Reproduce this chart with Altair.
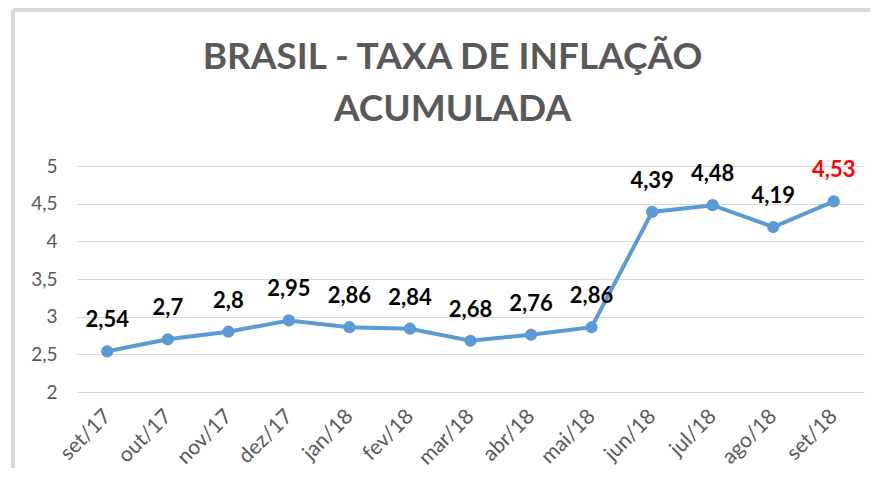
import altair as alt
import pandas as pd

meses = ["set/17", "out/17", "nov/17", "dez/17", "jan/18", "fev/18", "mar/18",
         "abr/18", "mai/18", "jun/18", "jul/18", "ago/18", "set/18"]
valores = [2.54, 2.7, 2.8, 2.95, 2.86, 2.84, 2.68, 2.76, 2.86, 4.39, 4.48, 4.19, 4.53]
y_ticks = [2, 2.5, 3, 3.5, 4, 4.5, 5]
titulo = ["BRASIL - TAXA DE INFLAÇÃO", "ACUMULADA"]

df = pd.DataFrame({"mes": meses, "valor": valores})

FONT = "Lato"
GRAY = "#595959"
BLUE = "#5B9BD5"

x = alt.X("mes:N", sort=meses, title=None,
          scale=alt.Scale(paddingInner=0, paddingOuter=0),
          axis=alt.Axis(labelAngle=-45, labelAlign="right", labelBaseline="middle",
                        labelPadding=21, labelFontSize=21, labelColor=GRAY,
                        labelFont=FONT, ticks=False, domain=True,
                        domainColor="#D9D9D9", domainWidth=1, grid=False))
y = alt.Y("valor:Q", title=None,
          scale=alt.Scale(domain=[2, 5], nice=False, zero=False),
          axis=alt.Axis(values=y_ticks, labelExpr="replace(toString(datum.value), '.', ',')",
                        labelFontSize=19, labelColor=GRAY, labelFont=FONT,
                        labelPadding=20, ticks=False, domain=False,
                        grid=True, gridColor="#D9D9D9", gridWidth=1))

base = alt.Chart(df).encode(x=x, y=y)

line = base.mark_line(color=BLUE, strokeWidth=4)
points = base.mark_point(filled=True, color=BLUE, size=150, opacity=1)
labels = base.transform_calculate(
    rotulo="replace(toString(datum.valor), '.', ',')"
).mark_text(dy=-24, baseline="alphabetic", fontSize=22, fontWeight="bold", font=FONT).encode(
    text="rotulo:N",
    color=alt.condition(alt.datum.mes == "set/18", alt.value("#FF0000"), alt.value("#000000")),
)

border_left = alt.Chart(df).mark_rule(color="#D9D9D9", strokeWidth=3).encode(
    x=alt.value(-64), y=alt.value(-156), y2=alt.value(400))
border_top = alt.Chart(df).mark_rule(color="#D9D9D9", strokeWidth=3).encode(
    x=alt.value(-64), x2=alt.value(900), y=alt.value(-156))

chart = alt.layer(border_left, border_top, line, points, labels).properties(
    width=787, height=226,
    padding={"left": 69, "top": 158, "right": 6, "bottom": 76},
    autosize=alt.AutoSizeParams(type="none"),
    title=alt.TitleParams(text=titulo, font=FONT, fontSize=37, fontWeight="bold",
                          color=GRAY, lineHeight=52, anchor="middle", offset=-120, dx=-18),
).configure_view(stroke=None)

chart.save("out.html", embed_options={"renderer": "svg", "actions": False})
